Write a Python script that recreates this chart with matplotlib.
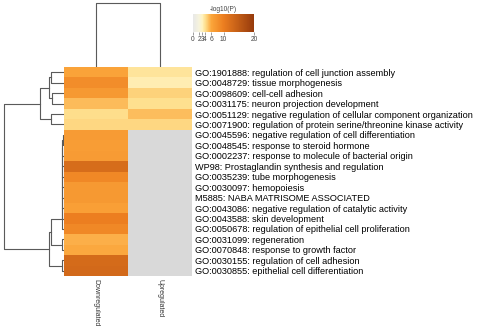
import numpy as np
import matplotlib
matplotlib.use("Agg")
import matplotlib.pyplot as plt
from matplotlib.colors import LinearSegmentedColormap, Normalize
from matplotlib.cm import ScalarMappable

#%% Data
terms = [
    "GO:1901888: regulation of cell junction assembly",
    "GO:0048729: tissue morphogenesis",
    "GO:0098609: cell-cell adhesion",
    "GO:0031175: neuron projection development",
    "GO:0051129: negative regulation of cellular component organization",
    "GO:0071900: regulation of protein serine/threonine kinase activity",
    "GO:0045596: negative regulation of cell differentiation",
    "GO:0048545: response to steroid hormone",
    "GO:0002237: response to molecule of bacterial origin",
    "WP98: Prostaglandin synthesis and regulation",
    "GO:0035239: tube morphogenesis",
    "GO:0030097: hemopoiesis",
    "M5885: NABA MATRISOME ASSOCIATED",
    "GO:0043086: negative regulation of catalytic activity",
    "GO:0043588: skin development",
    "GO:0050678: regulation of epithelial cell proliferation",
    "GO:0031099: regeneration",
    "GO:0070848: response to growth factor",
    "GO:0030155: regulation of cell adhesion",
    "GO:0030855: epithelial cell differentiation",
]
columns = ["Downregulated", "Upregulated"]

# -log10(P), NaN = not enriched
down = [6.2, 8.5, 7.2, 5.3, 4.1, 4.3, 7.0, 6.8, 7.0, 12.5,
        9.0, 7.2, 7.2, 6.6, 10.0, 9.0, 5.7, 5.9, 12.8, 13.0]
up = [3.8, 3.3, 4.5, 4.0, 5.2, 4.3] + [np.nan] * 14

# row clustering (child a, child b, height); ids >= 20 are earlier merges
row_merges = [
    (0, 1, 13), (2, 3, 12.5), (20, 21, 15), (4, 5, 13), (22, 23, 24),
    (6, 7, 1.5), (25, 8, 1.6), (26, 9, 1.7), (27, 10, 1.8), (28, 11, 1.9),
    (29, 12, 2.0), (30, 13, 2.1), (31, 14, 2.2), (32, 15, 2.3),
    (16, 17, 2), (33, 34, 13), (18, 19, 2), (35, 36, 15), (24, 37, 60),
]
col_merges = [(0, 1, 64)]

cbar_ticks = [0, 2, 3, 4, 6, 10, 20]

#%% Colormap
cmap = LinearSegmentedColormap.from_list(
    "metascape",
    [(0.0, "#e8e8e8"), (0.1, "#f6f3dc"), (0.15, "#fff3c0"), (0.2, "#fee08f"),
     (0.3, "#fba53a"), (0.5, "#ec7e20"), (1.0, "#963a0c")])
cmap.set_bad("#d9d9d9")
norm = Normalize(0, 20)


def dendro_lines(merges, n):
    pos = {i: i + 0.5 for i in range(n)}
    hgt = {i: 0 for i in range(n)}
    segs = []
    for k, (a, b, h) in enumerate(merges):
        segs.append(([hgt[a], h, h, hgt[b]], [pos[a], pos[a], pos[b], pos[b]]))
        pos[n + k] = (pos[a] + pos[b]) / 2
        hgt[n + k] = h
    return segs


W, H = 480, 334
fig = plt.figure(figsize=(4.8, 3.34), dpi=100)
plt.rcParams["font.family"] = ["Liberation Sans", "DejaVu Sans"]


def px_axes(x0, y0, x1, y1):
    return fig.add_axes([x0 / W, 1 - y1 / H, (x1 - x0) / W, (y1 - y0) / H])


#%% Heatmap
ax = px_axes(64, 67, 192, 276)
data = np.ma.masked_invalid(np.array([down, up]).T)
ax.pcolormesh(np.arange(3), np.arange(21), data, cmap=cmap, norm=norm)
ax.set_xlim(0, 2)
ax.set_ylim(20, 0)
ax.yaxis.tick_right()
ax.set_yticks(np.arange(20) + 0.5)
ax.set_yticklabels(terms, fontsize=6.6)
ax.set_xticks(np.arange(2) + 0.5)
ax.set_xticklabels(columns, rotation=270, fontsize=5, color="#333333")
ax.tick_params(length=0, pad=2)
for s in ax.spines.values():
    s.set_visible(False)

#%% Row dendrogram
axl = px_axes(0, 67, 64, 276)
for xs, ys in dendro_lines(row_merges, 20):
    axl.plot(xs, ys, color="#5a5a5a", lw=0.8)
axl.set_xlim(64, 0)
axl.set_ylim(20, 0)
axl.axis("off")

#%% Column dendrogram
axt = px_axes(64, 0, 192, 67)
for ys, xs in dendro_lines(col_merges, 2):
    axt.plot(xs, ys, color="#5a5a5a", lw=0.8)
axt.set_xlim(0, 2)
axt.set_ylim(0, 67)
axt.axis("off")

#%% Colorbar
cax = px_axes(193, 14, 254, 32)
cb = fig.colorbar(ScalarMappable(norm=norm, cmap=cmap), cax=cax, orientation="horizontal")
cb.set_ticks(cbar_ticks)
cb.outline.set_visible(False)
cax.tick_params(labelsize=4.8, length=2, width=0.5, color="#777777", labelcolor="#444444", pad=1)
cax.set_title("-log10(P)", fontsize=4.8, color="#444444", pad=2)

fig.savefig("out.png", dpi=100)
